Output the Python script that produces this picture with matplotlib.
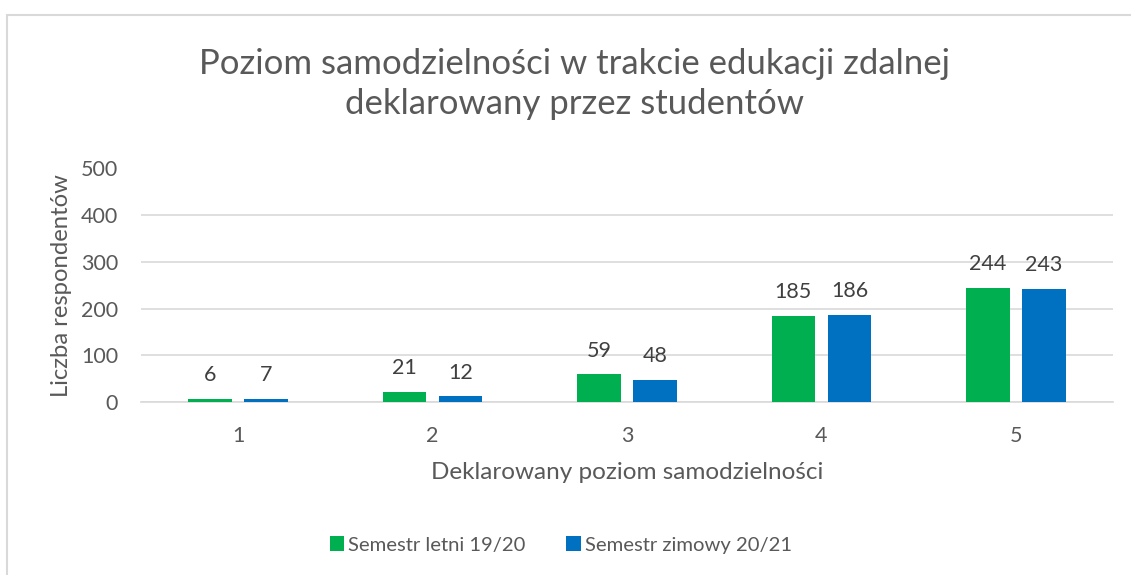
import numpy as np
import matplotlib.pyplot as plt
from matplotlib.patches import Rectangle

plt.rcParams['font.family'] = ['Lato', 'DejaVu Sans']

# dane
poziomy = ["1", "2", "3", "4", "5"]
letni_19_20 = [6, 21, 59, 185, 244]
zimowy_20_21 = [7, 12, 48, 186, 243]
serie = ["Semestr letni 19/20", "Semestr zimowy 20/21"]

kolor_tekstu = "#595959"
zielony = "#00B050"
niebieski = "#0070C0"

W, H = 1131, 575
fig = plt.figure(figsize=(W / 100, H / 100), dpi=100)

# ramka wykresu (wychodzi poza obraz z prawej i z dołu)
fig.patches.append(Rectangle((7 / W, -0.1), 1.2, 1 - 15 / H + 0.1, transform=fig.transFigure,
                             fill=False, edgecolor="#D9D9D9", linewidth=1.5))

ax = fig.add_axes([141 / W, (H - 402) / H, (1113 - 141) / W, (402 - 168.5) / H])

x = np.arange(1, len(poziomy) + 1)
szer = 0.224
przes = 0.144
b1 = ax.bar(x - przes, letni_19_20, szer, color=zielony, label=serie[0], zorder=3)
b2 = ax.bar(x + przes, zimowy_20_21, szer, color=niebieski, label=serie[1], zorder=3)

for bars in (b1, b2):
    ax.bar_label(bars, padding=10, fontsize=15.5, color="#404040")

ax.set_xlim(0.5, 5.5)
ax.set_ylim(0, 500)
ax.set_yticks(range(0, 501, 100))
ax.set_xticks(x)
ax.set_xticklabels(poziomy)
ax.grid(axis="y", color="#D9D9D9", linewidth=1.2, zorder=0)
for s in ["top", "right", "left"]:
    ax.spines[s].set_visible(False)
ax.spines["bottom"].set_color("#D9D9D9")
ax.spines["bottom"].set_linewidth(1.2)
ax.tick_params(axis="both", length=0, labelsize=15.5, labelcolor=kolor_tekstu)
ax.tick_params(axis="x", pad=17)
ax.tick_params(axis="y", pad=16.5)

ax.set_xlabel("Deklarowany poziom samodzielności", fontsize=17.5, color=kolor_tekstu, labelpad=12)
ax.set_ylabel("Liczba respondentów", fontsize=17.2, color=kolor_tekstu, labelpad=6)

fig.text(574.5 / W, 1 - 84 / H,
         "Poziom samodzielności w trakcie edukacji zdalnej\ndeklarowany przez studentów",
         ha="center", va="center", fontsize=25, color=kolor_tekstu, linespacing=1.27)

fig.legend(handles=[b1, b2], loc="center", bbox_to_anchor=(561 / W, 1 - 545 / H),
           ncol=2, frameon=False, fontsize=14.6, labelcolor=kolor_tekstu,
           handlelength=0.7, handleheight=0.7, handletextpad=0.2, columnspacing=2.0)

fig.savefig("out.png", dpi=100)
